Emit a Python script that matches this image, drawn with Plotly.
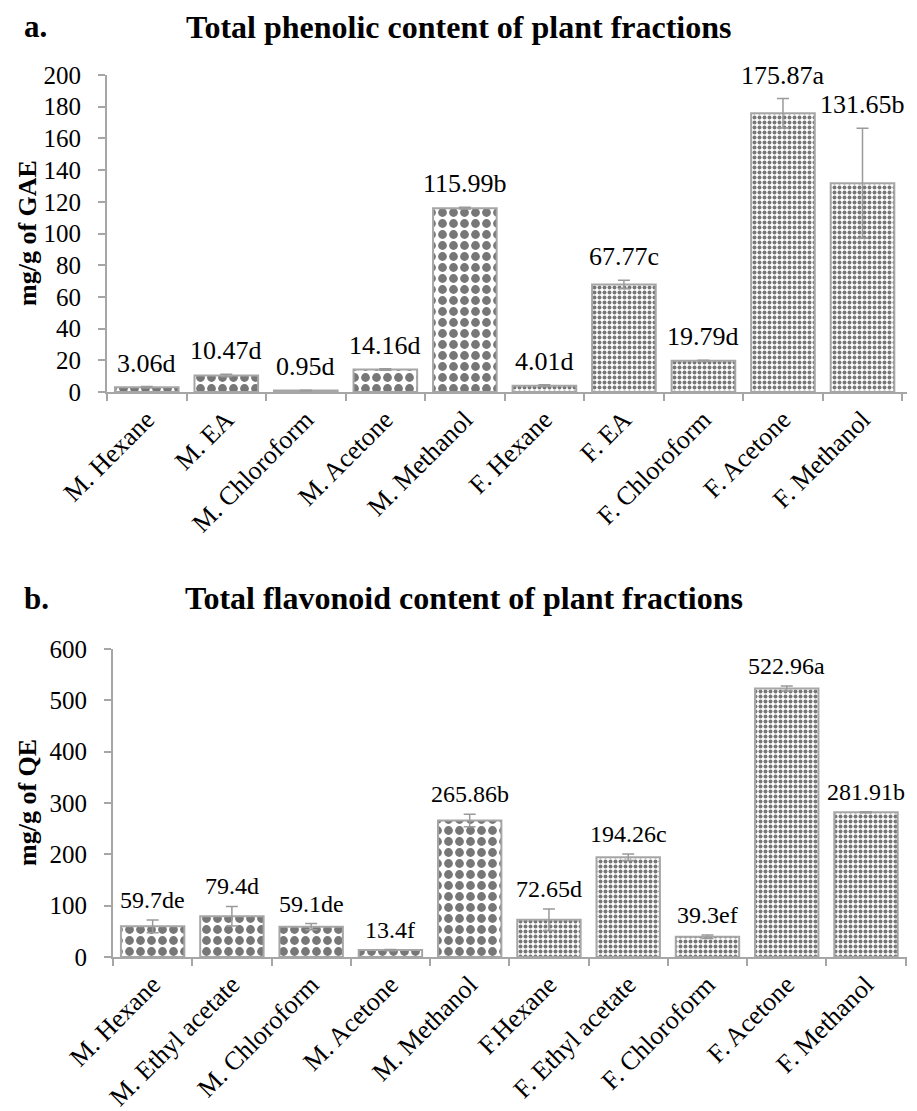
import plotly.graph_objects as go

# ---------------- data ----------------
cats_a = ["M. Hexane", "M. EA", "M. Chloroform", "M. Acetone", "M. Methanol",
          "F. Hexane", "F. EA", "F. Chloroform", "F. Acetone", "F. Methanol"]
vals_a = [3.06, 10.47, 0.95, 14.16, 115.99, 4.01, 67.77, 19.79, 175.87, 131.65]
errs_a = [0.4, 0.8, 0.1, 0.5, 0.5, 0.5, 2.7, 0.3, 9.3, 34.7]
letters_a = ["d", "d", "d", "d", "b", "d", "c", "d", "a", "b"]

cats_b = ["M. Hexane", "M. Ethyl acetate", "M. Chloroform", "M. Acetone", "M. Methanol",
          "F.Hexane", "F. Ethyl acetate", "F. Chloroform", "F. Acetone", "F. Methanol"]
vals_b = [59.7, 79.4, 59.1, 13.4, 265.86, 72.65, 194.26, 39.3, 522.96, 281.91]
errs_b = [12.5, 19.0, 6.0, 1.0, 12.3, 21.0, 6.5, 3.5, 5.0, 1.0]
letters_b = ["de", "d", "de", "f", "b", "d", "c", "ef", "a", "b"]

groups = ["M", "M", "M", "M", "M", "F", "F", "F", "F", "F"]

ticks_a = [0, 20, 40, 60, 80, 100, 120, 140, 160, 180, 200]
ticks_b = [0, 100, 200, 300, 400, 500, 600]

# ---------------- style ----------------
OFF = 8                      # page body margin
W, H = 917 - OFF, 1111 - OFF
SERIF = "Liberation Serif, Times New Roman, serif"
AXIS_GRAY = "#a6a6a6"
CHECK_GRAY = "#777777"


def fx(px):
    return (px - OFF) / W


def fy(py):
    return 1 - (py - OFF) / H


pat_size = [11 if g == "M" else 5 for g in groups]
pat_sol = [0.5 for g in groups]

fig = go.Figure()


def add_chart(cats, vals, errs, xa, ya):
    fig.add_trace(go.Bar(
        x=cats, y=vals, xaxis=xa, yaxis=ya,
        marker=dict(
            color="white",
            line=dict(color=AXIS_GRAY, width=2),
            pattern=dict(shape=".", fgcolor=CHECK_GRAY, bgcolor="white",
                         size=pat_size, solidity=pat_sol, fillmode="replace"),
        ),
        error_y=dict(type="data", array=errs, visible=True, color="#9a9a9a",
                     thickness=1.5, width=6),
        showlegend=False, hoverinfo="skip",
    ))


add_chart(cats_a, vals_a, errs_a, "x", "y")
add_chart(cats_b, vals_b, errs_b, "x2", "y2")

annotations = []
for c, v, e, l in zip(cats_a, vals_a, errs_a, letters_a):
    annotations.append(dict(x=c, y=v + e, xref="x", yref="y", text=f"{v:g}{l}",
                            showarrow=False, yanchor="bottom", yshift=7,
                            font=dict(family=SERIF, size=26, color="black")))
for c, v, e, l in zip(cats_b, vals_b, errs_b, letters_b):
    annotations.append(dict(x=c, y=v + e, xref="x2", yref="y2", text=f"{v:g}{l}",
                            showarrow=False, yanchor="bottom", yshift=5,
                            font=dict(family=SERIF, size=24, color="black")))

# titles
annotations += [
    dict(x=fx(22), y=fy(27), xref="paper", yref="paper", text="<b>a.</b>",
         showarrow=False, xanchor="left", yanchor="middle",
         font=dict(family=SERIF, size=31, color="black")),
    dict(x=fx(459), y=fy(27), xref="paper", yref="paper",
         text="<b>Total phenolic content of plant fractions</b>",
         showarrow=False, xanchor="center", yanchor="middle",
         font=dict(family=SERIF, size=32, color="black")),
    dict(x=fx(22), y=fy(598), xref="paper", yref="paper", text="<b>b.</b>",
         showarrow=False, xanchor="left", yanchor="middle",
         font=dict(family=SERIF, size=31, color="black")),
    dict(x=fx(464), y=fy(598), xref="paper", yref="paper",
         text="<b>Total flavonoid content of plant fractions</b>",
         showarrow=False, xanchor="center", yanchor="middle",
         font=dict(family=SERIF, size=32, color="black")),
    dict(x=fx(27), y=fy(233), xref="paper", yref="paper", text="<b>mg/g of GAE</b>",
         showarrow=False, textangle=-90, xanchor="center", yanchor="middle",
         font=dict(family=SERIF, size=26, color="black")),
    dict(x=fx(27), y=fy(803), xref="paper", yref="paper", text="<b>mg/g of QE</b>",
         showarrow=False, textangle=-90, xanchor="center", yanchor="middle",
         font=dict(family=SERIF, size=26, color="black")),
]

xcommon = dict(showline=True, linecolor=AXIS_GRAY, linewidth=2, ticks="outside",
               ticklen=7, tickwidth=1.5, tickcolor=AXIS_GRAY, tickson="boundaries",
               tickangle=-45, showgrid=False, zeroline=False, automargin=False,
               tickfont=dict(family=SERIF, size=26, color="black"))
ycommon = dict(showline=True, linecolor=AXIS_GRAY, linewidth=2, ticks="outside",
               ticklen=7, tickwidth=1.5, tickcolor=AXIS_GRAY, showgrid=False,
               zeroline=False, automargin=False, ticklabelstandoff=12,
               tickfont=dict(family=SERIF, size=25, color="black"))

fig.update_layout(
    width=W, height=H,
    margin=dict(l=0, r=0, t=0, b=0),
    paper_bgcolor="white", plot_bgcolor="white",
    bargap=0.2,
    xaxis=dict(domain=[fx(107), fx(907)], anchor="y", **xcommon),
    yaxis=dict(domain=[fy(392), fy(75)], anchor="x", range=[0, 200],
               tickvals=ticks_a, **ycommon),
    xaxis2=dict(domain=[fx(113), fx(907)], anchor="y2", **xcommon),
    yaxis2=dict(domain=[fy(957), fy(649)], anchor="x2", range=[0, 600],
                tickvals=ticks_b, **ycommon),
    annotations=annotations,
)

fig.write_html("out.html")
